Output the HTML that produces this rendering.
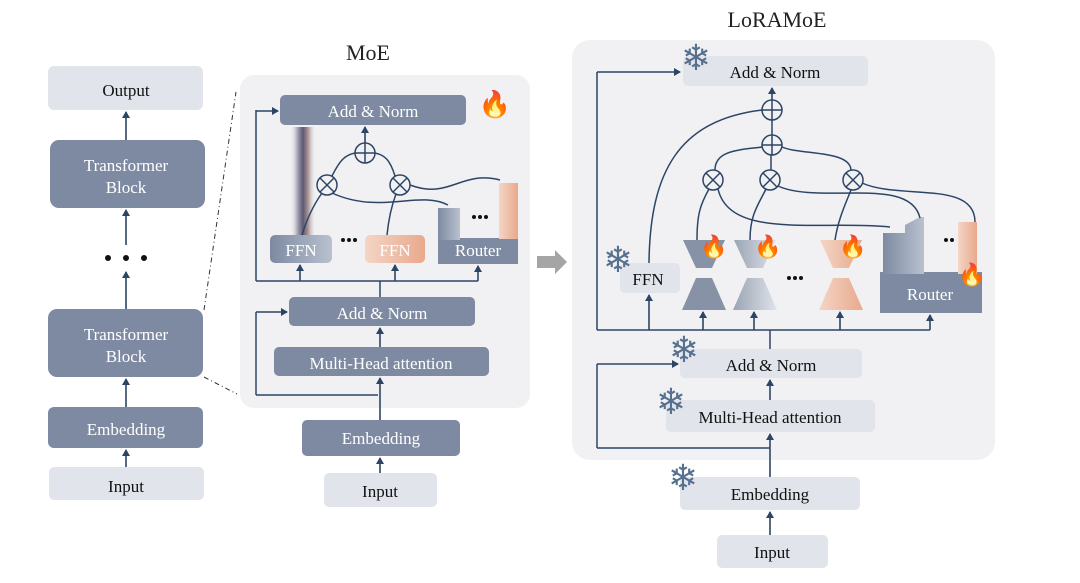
<!DOCTYPE html>
<html><head><style>
html,body{margin:0;padding:0;background:#fff;}
svg{display:block;font-family:"Liberation Serif",serif;}
</style></head><body>
<svg width="1080" height="583" viewBox="0 0 1080 583" xmlns="http://www.w3.org/2000/svg">
<defs>
<marker id="a" markerWidth="8" markerHeight="8" refX="6" refY="4" orient="auto" markerUnits="userSpaceOnUse"><path d="M0,0 L7,4 L0,8 z" fill="#2c4566"/></marker>
<linearGradient id="gd" x1="0" x2="1"><stop offset="0" stop-color="#7d8aa1"/><stop offset="1" stop-color="#b9c1cf"/></linearGradient>
<linearGradient id="gp" x1="0" x2="1"><stop offset="0" stop-color="#f4d5c6"/><stop offset="1" stop-color="#e8a98c"/></linearGradient>
<linearGradient id="gl" x1="0" x2="1"><stop offset="0" stop-color="#9aa4b3"/><stop offset="1" stop-color="#dfe3ea"/></linearGradient>
<linearGradient id="st" x1="0" x2="1"><stop offset="0" stop-color="#f1f1f3" stop-opacity="0"/><stop offset="0.3" stop-color="#8a8aa0"/><stop offset="0.5" stop-color="#3a3050"/><stop offset="0.7" stop-color="#9a7f80"/><stop offset="1" stop-color="#f1f1f3" stop-opacity="0"/></linearGradient>
</defs>
<!-- panels -->
<rect x="240" y="75" width="290" height="333" rx="14" fill="#f1f1f3"/>
<rect x="572" y="40" width="423" height="420" rx="18" fill="#f1f1f3"/>
<text x="368" y="60" font-size="22" text-anchor="middle" fill="#222">MoE</text>
<text x="777" y="27" font-size="22" text-anchor="middle" fill="#222">LoRAMoE</text>

<!-- left column -->
<g font-size="17" text-anchor="middle">
<rect x="48" y="66" width="155" height="44" rx="6" fill="#e1e4ea"/><text x="126" y="96" fill="#111">Output</text>
<rect x="50" y="140" width="155" height="68" rx="9" fill="#7d8aa1"/><text x="126" y="171" fill="#fff">Transformer</text><text x="126" y="193" fill="#fff">Block</text>
<rect x="48" y="309" width="155" height="68" rx="9" fill="#7d8aa1"/><text x="126" y="340" fill="#fff">Transformer</text><text x="126" y="362" fill="#fff">Block</text>
<rect x="48" y="407" width="155" height="41" rx="6" fill="#7d8aa1"/><text x="126" y="435" fill="#fff">Embedding</text>
<rect x="49" y="467" width="155" height="33" rx="5" fill="#e1e4ea"/><text x="126" y="492" fill="#111">Input</text>
</g>
<g fill="#111"><circle cx="108" cy="258" r="3"/><circle cx="126" cy="258" r="3"/><circle cx="144" cy="258" r="3"/></g>
<g stroke="#2c4566" stroke-width="1.6" fill="none" marker-end="url(#a)">
<line x1="126" y1="140" x2="126" y2="112"/>
<line x1="126" y1="245" x2="126" y2="210"/>
<line x1="126" y1="309" x2="126" y2="272"/>
<line x1="126" y1="407" x2="126" y2="379"/>
<line x1="126" y1="467" x2="126" y2="450"/>
</g>
<g stroke="#333" stroke-width="1" stroke-dasharray="5,3,1,3" fill="none">
<line x1="204" y1="310" x2="236" y2="92"/>
<line x1="204" y1="377" x2="237" y2="394"/>
</g>

<!-- MoE -->
<rect x="290" y="127" width="26" height="110" fill="url(#st)" opacity="0.8"/>
<g font-size="17" text-anchor="middle">
<rect x="280" y="95" width="186" height="30" rx="5" fill="#7d8aa1"/><text x="373" y="117" fill="#fff">Add &amp; Norm</text>
<rect x="270" y="235" width="62" height="28" rx="5" fill="url(#gd)"/><text x="301" y="256" fill="#fff">FFN</text>
<rect x="365" y="235" width="60" height="28" rx="5" fill="url(#gp)"/><text x="395" y="256" fill="#fff">FFN</text>
<rect x="438" y="238" width="80" height="26" fill="#7d8aa1"/>
<rect x="438" y="208" width="22" height="32" fill="url(#gd)"/>
<rect x="499" y="183" width="19" height="56" fill="url(#gp)"/>
<text x="478" y="256" fill="#fff">Router</text>
<rect x="289" y="297" width="186" height="29" rx="5" fill="#7d8aa1"/><text x="382" y="319" fill="#fff">Add &amp; Norm</text>
<rect x="274" y="347" width="215" height="29" rx="5" fill="#7d8aa1"/><text x="381" y="369" fill="#fff">Multi-Head attention</text>
<rect x="302" y="420" width="158" height="36" rx="5" fill="#7d8aa1"/><text x="381" y="444" fill="#fff">Embedding</text>
<rect x="324" y="473" width="113" height="34" rx="5" fill="#e1e4ea"/><text x="380" y="497" fill="#111">Input</text>
</g>
<g fill="#111"><circle cx="343" cy="240" r="2"/><circle cx="349" cy="240" r="2"/><circle cx="355" cy="240" r="2"/><circle cx="474" cy="217" r="2"/><circle cx="480" cy="217" r="2"/><circle cx="486" cy="217" r="2"/></g>
<text x="495" y="113" font-size="26" text-anchor="middle">🔥</text>
<g stroke="#2c4566" stroke-width="1.5" fill="none">
<circle cx="365" cy="153" r="10"/><line x1="355" y1="153" x2="375" y2="153"/><line x1="365" y1="143" x2="365" y2="163"/>
<circle cx="327" cy="185" r="10"/><line x1="320" y1="178" x2="334" y2="192"/><line x1="334" y1="178" x2="320" y2="192"/>
<circle cx="400" cy="185" r="10"/><line x1="393" y1="178" x2="407" y2="192"/><line x1="407" y1="178" x2="393" y2="192"/>
<path d="M332,176 C340,160 345,155 355,153"/><path d="M395,176 C390,160 385,155 375,153"/>
<path d="M322,193 C310,210 305,225 302,235"/><path d="M396,194 C390,210 388,225 387,235"/>
<path d="M332,193 C380,215 420,190 448,205"/><path d="M410,185 C450,200 460,170 500,180"/>
<polyline points="256,395 378,395"/>
<line x1="256" y1="395" x2="256" y2="312"/>
<line x1="256" y1="281" x2="256" y2="110"/>
<polyline points="256,281 478,281"/>
<line x1="380" y1="297" x2="380" y2="281"/>
</g>
<g stroke="#2c4566" stroke-width="1.6" fill="none" marker-end="url(#a)">
<line x1="365" y1="143" x2="365" y2="127"/>
<line x1="256" y1="111" x2="278" y2="111"/>
<line x1="256" y1="312" x2="287" y2="312"/>
<line x1="300" y1="281" x2="300" y2="265"/>
<line x1="395" y1="281" x2="395" y2="265"/>
<line x1="478" y1="281" x2="478" y2="266"/>
<line x1="380" y1="347" x2="380" y2="328"/>
<line x1="380" y1="420" x2="380" y2="378"/>
<line x1="380" y1="473" x2="380" y2="458"/>
</g>
<polygon points="537,256 555,256 555,250 567,262 555,274 555,268 537,268" fill="#a5a5a5"/>

<!-- LoRAMoE -->
<g font-size="17" text-anchor="middle">
<rect x="683" y="56" width="185" height="30" rx="5" fill="#e1e4ea"/><text x="775" y="78" fill="#111">Add &amp; Norm</text>
<rect x="620" y="263" width="60" height="30" rx="5" fill="#e1e4ea"/><text x="648" y="285" fill="#111">FFN</text>
<polygon points="683,240 725,240 712,268 696,268" fill="#8792a6"/><polygon points="696,278 712,278 726,310 682,310" fill="#8792a6"/>
<polygon points="734,240 776,240 763,268 747,268" fill="url(#gl)"/><polygon points="747,278 763,278 777,310 733,310" fill="url(#gl)"/>
<polygon points="820,240 862,240 849,268 833,268" fill="url(#gp)"/><polygon points="833,278 849,278 863,310 819,310" fill="url(#gp)"/>
<rect x="880" y="272" width="102" height="41" fill="#7d8aa1"/>
<polygon points="883,233 905,233 905,225 920,217 924,217 924,274 883,274" fill="url(#gd)"/>
<rect x="958" y="222" width="19" height="52" fill="url(#gp)"/>
<text x="930" y="300" fill="#fff">Router</text>
<rect x="680" y="349" width="182" height="29" rx="5" fill="#e1e4ea"/><text x="771" y="371" fill="#111">Add &amp; Norm</text>
<rect x="666" y="400" width="209" height="32" rx="5" fill="#e1e4ea"/><text x="770" y="423" fill="#111">Multi-Head attention</text>
<rect x="680" y="477" width="180" height="33" rx="5" fill="#e1e4ea"/><text x="770" y="500" fill="#111">Embedding</text>
<rect x="717" y="535" width="111" height="33" rx="5" fill="#e1e4ea"/><text x="772" y="558" fill="#111">Input</text>
</g>
<g fill="#111"><circle cx="789" cy="278" r="2"/><circle cx="795" cy="278" r="2"/><circle cx="801" cy="278" r="2"/><circle cx="946" cy="240" r="2"/><circle cx="952" cy="240" r="2"/></g>
<g font-size="22" text-anchor="middle">
<text x="714" y="254">🔥</text><text x="768" y="254">🔥</text><text x="853" y="254">🔥</text><text x="972" y="282">🔥</text>
</g>
<g font-size="36" text-anchor="middle" fill="#56708f" font-family="'DejaVu Sans',sans-serif" font-weight="bold">
<text x="696" y="70">❄</text><text x="618" y="272">❄</text><text x="684" y="362">❄</text><text x="671" y="414">❄</text><text x="683" y="490">❄</text>
</g>
<g stroke="#2c4566" stroke-width="1.5" fill="none">
<circle cx="772" cy="110" r="10"/><line x1="762" y1="110" x2="782" y2="110"/><line x1="772" y1="100" x2="772" y2="120"/>
<circle cx="772" cy="145" r="10"/><line x1="762" y1="145" x2="782" y2="145"/><line x1="772" y1="135" x2="772" y2="155"/>
<line x1="772" y1="120" x2="772" y2="135"/>
<circle cx="713" cy="180" r="10"/><line x1="706" y1="173" x2="720" y2="187"/><line x1="720" y1="173" x2="706" y2="187"/>
<circle cx="770" cy="180" r="10"/><line x1="763" y1="173" x2="777" y2="187"/><line x1="777" y1="173" x2="763" y2="187"/>
<circle cx="853" cy="180" r="10"/><line x1="846" y1="173" x2="860" y2="187"/><line x1="860" y1="173" x2="846" y2="187"/>
<path d="M715,170 C715,150 740,150 762,147"/><line x1="771" y1="170" x2="771" y2="155"/><path d="M851,170 C850,150 800,155 782,147"/>
<path d="M649,263 C650,170 680,120 762,110"/>
<path d="M709,189 C700,205 697,215 697,240"/><path d="M766,189 C758,205 750,215 750,240"/><path d="M851,190 C845,205 838,220 835,240"/>
<path d="M718,189 C730,240 820,220 890,227"/>
<path d="M778,186 C820,205 910,175 920,218"/>
<path d="M862,183 C900,200 975,180 975,222"/>
<polyline points="597,330 930,330"/>
<line x1="597" y1="330" x2="597" y2="72"/>
<line x1="770" y1="349" x2="770" y2="330"/>
<polyline points="597,448 770,448"/>
<line x1="597" y1="448" x2="597" y2="364"/>
</g>
<g stroke="#2c4566" stroke-width="1.6" fill="none" marker-end="url(#a)">
<line x1="772" y1="100" x2="772" y2="88"/>
<line x1="597" y1="72" x2="680" y2="72"/>
<line x1="597" y1="364" x2="678" y2="364"/>
<line x1="649" y1="330" x2="649" y2="295"/>
<line x1="703" y1="330" x2="703" y2="312"/>
<line x1="754" y1="330" x2="754" y2="312"/>
<line x1="840" y1="330" x2="840" y2="312"/>
<line x1="930" y1="330" x2="930" y2="315"/>
<line x1="770" y1="400" x2="770" y2="380"/>
<line x1="770" y1="477" x2="770" y2="434"/>
<line x1="770" y1="535" x2="770" y2="512"/>
</g>
</svg>
</body></html>
